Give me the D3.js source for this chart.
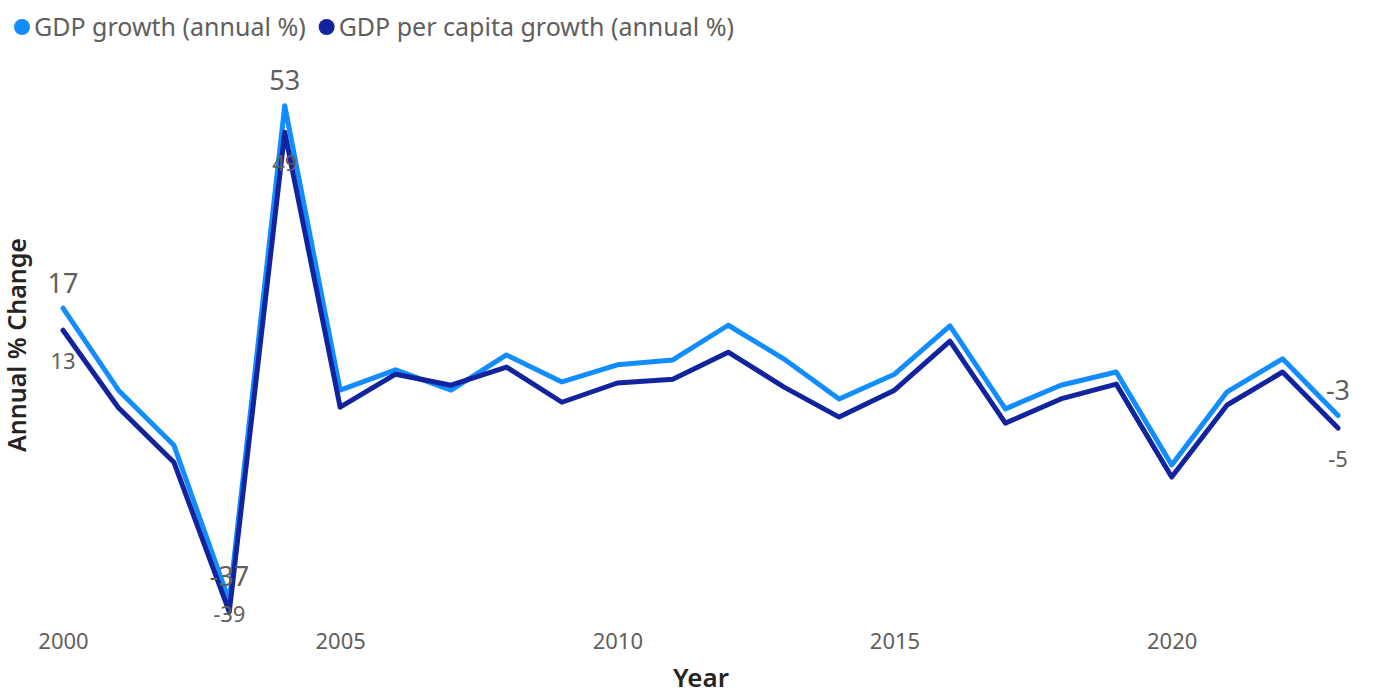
<!DOCTYPE html>
<html>
<head>
<meta charset="utf-8">
<script src="https://cdn.jsdelivr.net/npm/d3@7"></script>
<style>
  html, body { margin: 0; padding: 0; background: #fff; }
  svg { display: block; font-family: "Noto Sans", "Open Sans", sans-serif; }
</style>
</head>
<body>
<svg id="chart" width="1373" height="694"></svg>
<script>
const years = [2000,2001,2002,2003,2004,2005,2006,2007,2008,2009,2010,2011,2012,2013,2014,2015,2016,2017,2018,2019,2020,2021,2022,2023];
const gdpGrowth = [16.6,1.7,-8.3,-36.7,53.4,1.7,5.4,1.7,8.1,3.2,6.3,7.2,13.5,7.4,0.1,4.6,13.4,-1.7,2.6,5.0,-11.9,1.4,7.4,-2.9];
const gdpPerCapita = [12.6,-1.5,-11.4,-38.6,48.6,-1.4,4.6,2.6,5.9,-0.5,3.0,3.7,8.6,2.3,-3.2,1.7,10.6,-4.3,0.1,2.8,-14.1,-1.0,5.0,-5.2];
const xTicks = [2000,2005,2010,2015,2020];
const labelYears = [2000,2003,2004,2023];
const seriesNames = ["GDP growth (annual %)","GDP per capita growth (annual %)"];
const seriesColors = ["#118DFF","#12239E"];

const svg = d3.select("#chart");
const x = d3.scaleLinear().domain([2000, 2023]).range([63, 1338]);
const y = d3.scaleLinear().domain([-40, 55]).range([619.5, 97]);

const series = [
  {name: seriesNames[0], color: seriesColors[0], values: gdpGrowth},
  {name: seriesNames[1], color: seriesColors[1], values: gdpPerCapita}
];

// Legend
const legend = svg.append("g");
let lx = 14;
series.forEach((s, i) => {
  const g = legend.append("g").attr("transform", `translate(${lx},0)`);
  g.append("circle").attr("cx", 8).attr("cy", 27).attr("r", 8).attr("fill", s.color);
  const t = g.append("text").attr("x", 20).attr("y", 36)
    .attr("font-size", 25).attr("fill", "#605E5C").text(s.name);
  lx += 20 + t.node().getComputedTextLength() + 13;
});

// X axis
const xAxis = d3.axisBottom(x).tickValues(xTicks).tickFormat(d3.format("d")).tickSize(0).tickPadding(0);
const xg = svg.append("g").attr("transform", "translate(0,641)").call(xAxis);
xg.select(".domain").remove();
xg.selectAll("text").attr("font-size", 22).attr("fill", "#605E5C")
  .attr("font-family", "Noto Sans, Open Sans, sans-serif").attr("dy", "0.35em");

// Axis titles
svg.append("text").attr("x", 701).attr("y", 687).attr("text-anchor", "middle")
  .attr("font-size", 26).attr("font-weight", 600).attr("fill", "#252423").text("Year");
svg.append("text").attr("transform", "translate(26,345) rotate(-90)").attr("text-anchor", "middle")
  .attr("font-size", 25).attr("font-weight", 600).attr("fill", "#252423").text("Annual % Change");

// Lines
const line = d3.line().x((d, i) => x(years[i])).y(d => y(d));
series.forEach(s => {
  svg.append("path").datum(s.values)
    .attr("fill", "none").attr("stroke", s.color).attr("stroke-width", 5)
    .attr("stroke-linejoin", "round").attr("stroke-linecap", "round")
    .attr("d", line);
});

// Data labels
const fmt = v => String(Math.round(v));
labelYears.forEach(yr => {
  const i = years.indexOf(yr);
  const v1 = gdpGrowth[i];
  svg.append("text").attr("x", x(yr)).attr("y", y(v1) - 25)
    .attr("dy", "0.35em").attr("text-anchor", "middle")
    .attr("font-size", 27).attr("fill", "#605E5C").text(fmt(v1));
  const v2 = gdpPerCapita[i];
  const ly = Math.min(y(v2) + 31, 614);
  svg.append("text").attr("x", x(yr)).attr("y", ly)
    .attr("dy", "0.35em").attr("text-anchor", "middle")
    .attr("font-size", 22).attr("fill", "#605E5C").text(fmt(v2));
});
</script>
</body>
</html>
